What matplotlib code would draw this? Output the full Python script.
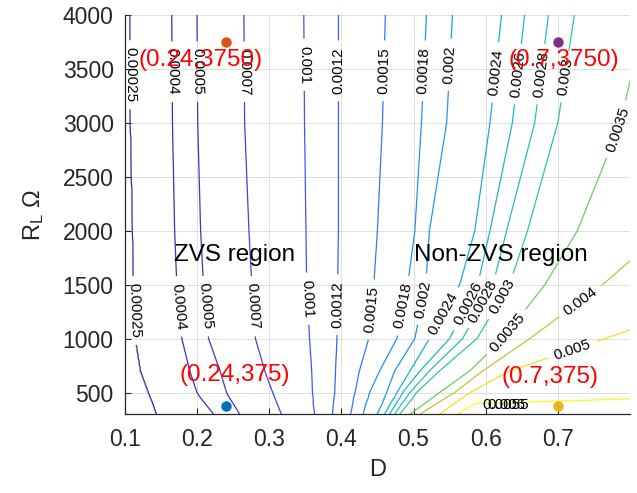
import numpy as np
import matplotlib
matplotlib.use('Agg')
import matplotlib.pyplot as plt
from matplotlib.colors import LinearSegmentedColormap, Normalize

plt.rcParams['font.family'] = ['Liberation Sans', 'DejaVu Sans']
plt.rcParams['mathtext.default'] = 'regular'

# contour levels of the map
levels = [0.00025, 0.0004, 0.0005, 0.0007, 0.001, 0.0012, 0.0015, 0.0018,
          0.002, 0.0024, 0.0026, 0.0028, 0.003, 0.0035, 0.004, 0.005, 0.006]

rows_R = [300, 400, 450, 500, 700, 1000, 1500, 2000, 3000, 4000]

# D where each level crosses each row of rows_R (values > 0.8 lie off the plot)
cross_D = [
    [0.144, 0.139, 0.136, 0.133, 0.122, 0.115, 0.112, 0.111, 0.108, 0.107],
    [0.223, 0.211, 0.205, 0.200, 0.190, 0.179, 0.172, 0.169, 0.166, 0.165],
    [0.259, 0.250, 0.245, 0.241, 0.232, 0.216, 0.209, 0.205, 0.201, 0.200],
    [0.317, 0.311, 0.308, 0.305, 0.294, 0.281, 0.276, 0.272, 0.266, 0.265],
    [0.363, 0.361, 0.361, 0.360, 0.359, 0.356, 0.352, 0.351, 0.349, 0.348],
    [0.388, 0.389, 0.390, 0.391, 0.392, 0.394, 0.395, 0.396, 0.396, 0.396],
    [0.413, 0.416, 0.417, 0.419, 0.425, 0.438, 0.445, 0.450, 0.457, 0.461],
    [0.430, 0.434, 0.437, 0.439, 0.453, 0.477, 0.492, 0.502, 0.511, 0.518],
    [0.450, 0.457, 0.460, 0.463, 0.474, 0.502, 0.517, 0.522, 0.546, 0.554],
    [0.460, 0.468, 0.473, 0.477, 0.495, 0.522, 0.564, 0.585, 0.606, 0.622],
    [0.467, 0.476, 0.481, 0.485, 0.509, 0.550, 0.589, 0.606, 0.637, 0.654],
    [0.474, 0.484, 0.490, 0.495, 0.522, 0.568, 0.610, 0.629, 0.668, 0.687],
    [0.481, 0.493, 0.499, 0.504, 0.536, 0.588, 0.633, 0.658, 0.700, 0.723],
    [0.495, 0.516, 0.526, 0.536, 0.578, 0.624, 0.682, 0.727, 0.787, 0.820],
    [0.509, 0.533, 0.545, 0.557, 0.596, 0.661, 0.762, 0.848, 0.959, 1.063],
    [0.536, 0.557, 0.567, 0.578, 0.633, 0.765, 0.980, 1.146, 1.243, 1.312],
    [0.561, 0.585, 0.850, 0.850, 0.900, 1.000, 1.150, 1.300, 1.400, 1.450],
]

# operating points
pt_D = [0.24, 0.24, 0.7, 0.7]
pt_R = [375, 3750, 375, 3750]
pt_text = ['(0.24,375)', '(0.24,3750)', '(0.7,375)', '(0.7,3750)']
pt_colors = ['#0072BD', '#D95319', '#EDB120', '#7E2F8E']

# build the field on a grid from the read crossings
D = np.linspace(0.1, 0.8, 500)
R = np.linspace(300, 4000, 700)
lev_full = [0.0] + levels + [0.01]
Z = np.empty((len(R), len(D)))
for i, r in enumerate(R):
    xs = [np.interp(r, rows_R, c) for c in cross_D]
    Z[i] = np.interp(D, [-1.0] + xs + [2.0], lev_full)

parula = LinearSegmentedColormap.from_list('parula', [
    (0.2422, 0.1504, 0.6603), (0.2810, 0.3228, 0.9579), (0.1786, 0.5289, 0.9682),
    (0.0689, 0.6948, 0.8394), (0.2161, 0.7843, 0.5923), (0.6720, 0.7793, 0.2227),
    (0.9970, 0.7659, 0.2199), (0.9598, 0.9218, 0.0948), (0.9769, 0.9839, 0.0805)])
norm = Normalize(levels[0], levels[-1])

fig = plt.figure(figsize=(6.37, 4.93), dpi=100)
ax = fig.add_axes([0.196, 0.160, 0.793, 0.810])

# label spots along each line (upper row and lower row)
label_spots = {
    0: [(0.107, 3444), (0.114, 1259)],
    1: [(0.166, 3472), (0.171, 1296)],
    2: [(0.201, 3472), (0.207, 1296)],
    3: [(0.266, 3472), (0.273, 1296)],
    4: [(0.349, 3537), (0.352, 1370)],
    5: [(0.396, 3481), (0.395, 1315)],
    6: [(0.459, 3481), (0.442, 1268)],
    7: [(0.516, 3481), (0.492, 1296)],
    8: [(0.552, 3537), (0.516, 1361)],
    9: [(0.619, 3463), (0.546, 1213)],
    10: [(0.651, 3444), (0.578, 1315)],
    11: [(0.683, 3444), (0.599, 1333)],
    12: [(0.719, 3417), (0.622, 1389)],
    13: [(0.783, 2935), (0.629, 1055)],
    14: [(0.730, 1361)],
    15: [(0.719, 916)],
}

# one contour set per level so each label lands on its own line
for k, lev in enumerate(levels):
    cs = ax.contour(D, R, Z, levels=[lev], colors=[parula(norm(lev))],
                    linewidths=0.9)
    if k in label_spots:
        cs.clabel(manual=label_spots[k], inline=True, inline_spacing=7,
                  fontsize=11, colors='k', fmt=lambda v: f'{v:g}')

# crowded labels near the bottom edge (they pile up in the original too)
for dx, s in zip([0.0, 0.006], ['0.0055', '0.006']):
    ax.text(0.596 + dx, 389, s, fontsize=11, ha='left', va='center')

for d, r, c in zip(pt_D, pt_R, pt_colors):
    ax.plot(d, r, 'o', color=c, markersize=6.5, zorder=5)

text_pos = [(0.252, 667), (0.205, 3580), (0.689, 648), (0.708, 3583)]
for (tx, ty), s in zip(text_pos, pt_text):
    ax.text(tx, ty, s, color='red', fontsize=17.5, ha='center', va='center',
            zorder=6)

ax.text(0.252, 1778, 'ZVS region', fontsize=17.5, ha='center', va='center')
ax.text(0.621, 1778, 'Non-ZVS region', fontsize=17.5, ha='center', va='center')

ax.set_xlim(0.1, 0.8)
ax.set_ylim(300, 4000)
ax.set_xticks([0.1, 0.2, 0.3, 0.4, 0.5, 0.6, 0.7])
ax.set_xticklabels(['0.1', '0.2', '0.3', '0.4', '0.5', '0.6', '0.7'])
ax.set_yticks(range(500, 4001, 500))
ax.tick_params(direction='in', length=4, labelsize=16.5, colors='#262626')
ax.tick_params(axis='x', pad=10)
ax.tick_params(axis='y', pad=8)
ax.grid(True, color='#dedede', linewidth=0.7)
ax.set_axisbelow(True)
for side in ['top', 'right']:
    ax.spines[side].set_visible(False)
for side in ['left', 'bottom']:
    ax.spines[side].set_color('#262626')
    ax.spines[side].set_linewidth(0.9)

ax.set_xlabel('D', fontsize=17, color='#262626', labelpad=6)
ax.set_ylabel('R$_L$ Ω', fontsize=17, color='#262626', labelpad=12)

fig.savefig('out.png', dpi=100)
